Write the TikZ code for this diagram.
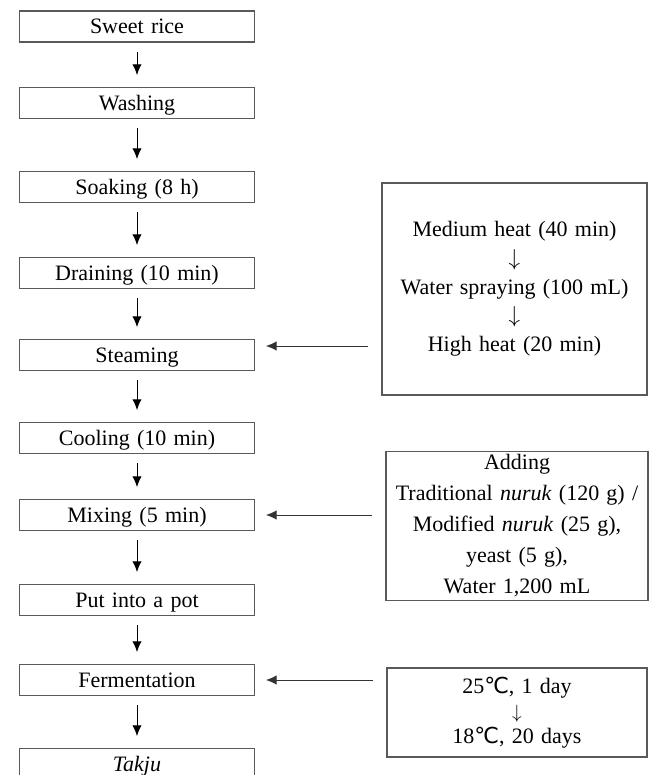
\documentclass[tikz,border=0pt]{standalone}
\usepackage{fontspec}
\setmainfont{Liberation Serif}
\newfontfamily\degfont{DejaVu Sans}
\newcommand{\degC}{{\degfont ℃}}
\newcommand{\smalldown}{{\fontsize{14}{14}\selectfont$\downarrow$}}
\newcommand{\widesp}{\spaceskip 0.33em plus 0.1em\relax}
\usetikzlibrary{arrows.meta}

\begin{document}
\begin{tikzpicture}[x=0.75pt, y=-0.75pt, >={Latex[length=8pt,width=7pt]},
    stepbox/.style={draw=black!65, line width=0.8pt, minimum width=176.5pt,
        minimum height=23.25pt, inner sep=0pt, text height=17pt, text depth=6pt,
        font=\fontsize{16.5}{20}\selectfont\widesp},
    notebox/.style={draw=black!65, line width=0.8pt, inner sep=0pt, align=center},
    flow/.style={->, line width=0.7pt, shorten <=7pt, shorten >=9pt},
    feed/.style={->, draw=black!80, line width=0.7pt, shorten <=10pt, shorten >=8pt}]
    \useasboundingbox (0,0) rectangle (651,775);

    % process steps
    \node[stepbox] (rice)  at (137,26.5) {Sweet rice};
    \node[stepbox] (wash)  at (137,103)  {Washing};
    \node[stepbox] (soak)  at (137,187)  {Soaking (8 h)};
    \node[stepbox] (drain) at (137,273)  {Draining (10 min)};
    \node[stepbox] (steam) at (137,355)  {Steaming};
    \node[stepbox] (cool)  at (137,438)  {Cooling (10 min)};
    \node[stepbox] (mix)   at (137,515)  {Mixing (5 min)};
    \node[stepbox] (pot)   at (137,600)  {Put into a pot};
    \node[stepbox] (ferm)  at (137,680)  {Fermentation};
    \node[stepbox] (takju) at (137,764)  {\textit{Takju}};

    \foreach \a/\b in {rice/wash, wash/soak, soak/drain, drain/steam, steam/cool,
        cool/mix, mix/pot, pot/ferm, ferm/takju}
        \draw[flow] (\a) -- (\b);

    % side conditions
    \node[notebox, minimum width=198.75pt, minimum height=159pt,
        font=\fontsize{16.5}{21.5}\selectfont\widesp] (heat) at (514.5,289)
        {Medium heat (40 min)\\$\downarrow$\\Water spraying (100 mL)\\$\downarrow$\\High heat (20 min)};
    \node[notebox, minimum width=196.5pt, minimum height=111.75pt,
        font=\fontsize{16.5}{23.25}\selectfont\widesp] (add) at (517,526)
        {Adding\\Traditional \textit{nuruk} (120 g) /\\Modified \textit{nuruk} (25 g),\\yeast (5 g),\\Water 1,200 mL};
    \node[notebox, minimum width=195pt, minimum height=66.75pt,
        font=\fontsize{16.5}{18.8}\selectfont\widesp] (temp) at (517,712.5)
        {25\degC, 1 day\\\smalldown\\18\degC, 20 days};

    \coordinate (s) at ([yshift=6.75pt]steam.east);
    \draw[feed] (s -| heat.west) -- (s);
    \draw[feed] (add.west |- mix.east) -- (mix.east);
    \draw[feed] (temp.west |- ferm.east) -- (ferm.east);
\end{tikzpicture}
\end{document}
